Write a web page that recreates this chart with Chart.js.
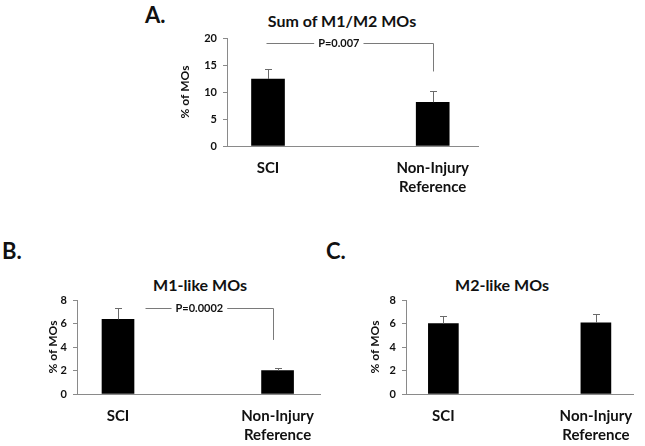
<!DOCTYPE html>
<html>
<head>
<meta charset="utf-8">
<script src="https://cdn.jsdelivr.net/npm/chart.js@4.4.0/dist/chart.umd.min.js"></script>
<style>
  body { margin: 0; background: #fff; width: 645px; height: 446px; position: relative; overflow: hidden; font-family: Lato, sans-serif; color: #111; }
  .panel { position: absolute; }
  .letter { position: absolute; font-weight: bold; font-size: 22px; line-height: 1; }
  .title { position: absolute; font-weight: bold; font-size: 16px; line-height: 1; text-align: center; width: 200px; white-space: nowrap; }
</style>
</head>
<body>
<div class="letter" style="left:145px; top:4px">A.</div>
<div class="title" style="left:242px; top:13px">Sum of M1/M2 MOs</div>
<div class="letter" style="left:2px; top:240px">B.</div>
<div class="title" style="left:100px; top:277px">M1-like MOs</div>
<div class="letter" style="left:326px; top:240px">C.</div>
<div class="title" style="left:402px; top:277px">M2-like MOs</div>

<div class="panel" style="left:150px; top:0px"><canvas id="chartA" width="340" height="200"></canvas></div>
<div class="panel" style="left:0px; top:230px"><canvas id="chartB" width="330" height="216"></canvas></div>
<div class="panel" style="left:330px; top:230px"><canvas id="chartC" width="315" height="216"></canvas></div>

<script>
// groups on the x axis (linear positions 1 and 2)
const categories = ['SCI', ['Non-Injury', 'Reference']];
const xPositions = [1, 2];

// A. Sum of M1/M2 MOs
const sumValues = [12.4, 8.1];
const sumErrors = [1.9, 2.0];
const sumTicks = [0, 5, 10, 15, 20];
const sumBracket = { text: 'P=0.007', from: 0.99, to: 2.0, level: 19.1, drop: 13.8, textAt: 1.43 };

// B. M1-like MOs
const m1Values = [6.35, 2.0];
const m1Errors = [1.0, 0.2];
const m1Ticks = [0, 2, 4, 6, 8];
const m1Bracket = { text: 'P=0.0002', from: 1.17, to: 1.97, level: 7.35, drop: 4.6, textAt: 1.51 };

// C. M2-like MOs
const m2Values = [6.0, 6.05];
const m2Errors = [0.65, 0.8];
const m2Ticks = [0, 2, 4, 6, 8];

const FONT = 'Lato, sans-serif';
const AXIS_GREY = '#8a8a8a';

// error bars + significance bracket
const extrasPlugin = {
  id: 'extras',
  afterDatasetsDraw(chart, args, opts) {
    const ctx = chart.ctx;
    const xs = chart.scales.x, ys = chart.scales.y;
    const data = chart.data.datasets[0].data;
    ctx.save();
    ctx.strokeStyle = '#6a6a6a';
    ctx.lineWidth = 1;
    (opts.errors || []).forEach((err, i) => {
      const x = Math.round(xs.getPixelForValue(data[i].x)) + 0.5;
      const y0 = ys.getPixelForValue(data[i].y);
      const y1 = Math.round(ys.getPixelForValue(data[i].y + err)) + 0.5;
      ctx.beginPath();
      ctx.moveTo(x, y0);
      ctx.lineTo(x, y1);
      ctx.moveTo(x - 3.5, y1);
      ctx.lineTo(x + 3.5, y1);
      ctx.stroke();
    });
    const b = opts.bracket;
    if (b) {
      const x1 = Math.round(xs.getPixelForValue(b.from)) + 0.5;
      const x2 = Math.round(xs.getPixelForValue(b.to)) + 0.5;
      const yl = Math.round(ys.getPixelForValue(b.level)) + 0.5;
      const yd = ys.getPixelForValue(b.drop);
      ctx.strokeStyle = '#7a7a7a';
      ctx.beginPath();
      ctx.moveTo(x1, yl);
      ctx.lineTo(x2, yl);
      ctx.lineTo(x2, yd);
      ctx.stroke();
      ctx.font = 'bold 11px ' + FONT;
      const tx = xs.getPixelForValue(b.textAt);
      const w = ctx.measureText(b.text).width;
      ctx.fillStyle = '#fff';
      ctx.fillRect(tx - w / 2 - 4, yl - 6, w + 8, 12);
      ctx.fillStyle = '#111';
      ctx.textAlign = 'center';
      ctx.textBaseline = 'middle';
      ctx.fillText(b.text, tx, yl);
    }
    ctx.restore();
  }
};

function makeChart(id, cfg) {
  const points = xPositions.map((x, i) => ({ x: x, y: cfg.values[i] }));
  return new Chart(document.getElementById(id), {
    type: 'bar',
    data: {
      datasets: [{
        data: points,
        backgroundColor: '#000',
        borderWidth: 0,
        barThickness: cfg.barWidth
      }]
    },
    options: {
      responsive: false,
      animation: false,
      layout: { padding: cfg.padding },
      plugins: {
        legend: { display: false },
        tooltip: { enabled: false },
        extras: { errors: cfg.errors, bracket: cfg.bracket }
      },
      scales: {
        x: {
          type: 'linear',
          bounds: 'data',
          offset: false,
          min: cfg.xRange[0],
          max: cfg.xRange[1],
          grid: { display: false, drawTicks: false, offset: false },
          border: { display: true, color: AXIS_GREY, width: 1 },
          afterBuildTicks: (axis) => { axis.ticks = xPositions.map(v => ({ value: v })); },
          afterFit: (scale) => { scale.height = cfg.xHeight; },
          ticks: {
            autoSkip: false,
            maxRotation: 0,
            padding: 12,
            color: '#111',
            font: { family: FONT, size: 15, weight: 'bold', lineHeight: 1.29 },
            callback: (value) => categories[xPositions.indexOf(value)]
          }
        },
        y: {
          min: cfg.ticks[0],
          max: cfg.ticks[cfg.ticks.length - 1],
          afterFit: (scale) => { scale.width = cfg.yWidth; },
          afterBuildTicks: (axis) => { axis.ticks = cfg.ticks.map(v => ({ value: v })); },
          grid: { display: true, drawOnChartArea: false, drawTicks: true, tickLength: 4, color: AXIS_GREY },
          border: { display: true, color: AXIS_GREY, width: 1 },
          ticks: {
            padding: 6,
            color: '#111',
            font: { family: FONT, size: 11, weight: 'bold' }
          },
          title: {
            display: true,
            text: '% of MOs',
            color: '#111',
            padding: { top: cfg.titlePad, bottom: 0 },
            font: { family: FONT, size: 12, weight: 'bold' }
          }
        }
      }
    },
    plugins: [extrasPlugin]
  });
}

makeChart('chartA', {
  values: sumValues, errors: sumErrors, ticks: sumTicks, bracket: sumBracket,
  xRange: [0.751, 2.275], barWidth: 33, yWidth: 77, titlePad: 28, xHeight: 54,
  padding: { left: 0, top: 38, right: 12, bottom: 0 }
});
makeChart('chartB', {
  values: m1Values, errors: m1Errors, ticks: m1Ticks, bracket: m1Bracket,
  xRange: [0.743, 2.266], barWidth: 32, yWidth: 77, titlePad: 46, xHeight: 52,
  padding: { left: 0, top: 70, right: 10, bottom: 0 }
});
makeChart('chartC', {
  values: m2Values, errors: m2Errors, ticks: m2Ticks, bracket: null,
  xRange: [0.755, 2.245], barWidth: 30, yWidth: 76, titlePad: 38, xHeight: 52,
  padding: { left: 0, top: 70, right: 5, bottom: 0 }
});
</script>
</body>
</html>
